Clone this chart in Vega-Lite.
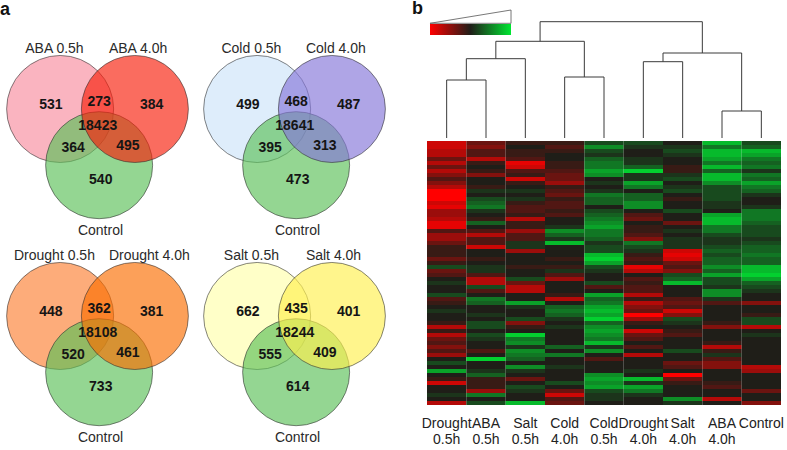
{
  "$schema": "https://vega.github.io/schema/vega-lite/v6.json",
  "background": "white",
  "padding": 0,
  "autosize": {"type": "pad"},
  "spacing": 20,
  "title": {"text": "a", "anchor": "start", "frame": "group", "offset": -19, "fontSize": 18, "fontWeight": "bold", "font": "Liberation Sans", "color": "#111"},
  "config": {
    "view": {"stroke": null},
    "font": "Liberation Sans",
    "text": {"font": "Liberation Sans"},
    "header": {"labels": false, "title": null, "labelPadding": 0, "titlePadding": 0, "labelFontSize": 0, "labelExpr": "''"},
    "headerFacet": {"labels": false, "title": null, "labelPadding": 0, "titlePadding": 0, "labelFontSize": 0, "labelExpr": "''"}
  },
  "resolve": {"scale": {"color": "independent", "fill": "independent"}, "legend": {"color": "independent", "fill": "independent"}},
  "hconcat": [
    {
      "data": {"values": [
        {"panel": "ABA", "kind": "circle", "set": "A", "name": "ABA 0.5h"},
        {"panel": "ABA", "kind": "circle", "set": "C", "name": "Control"},
        {"panel": "ABA", "kind": "circle", "set": "B", "name": "ABA 4.0h"},
        {"panel": "Cold", "kind": "circle", "set": "A", "name": "Cold 0.5h"},
        {"panel": "Cold", "kind": "circle", "set": "C", "name": "Control"},
        {"panel": "Cold", "kind": "circle", "set": "B", "name": "Cold 4.0h"},
        {"panel": "Drought", "kind": "circle", "set": "A", "name": "Drought 0.5h"},
        {"panel": "Drought", "kind": "circle", "set": "C", "name": "Control"},
        {"panel": "Drought", "kind": "circle", "set": "B", "name": "Drought 4.0h"},
        {"panel": "Salt", "kind": "circle", "set": "A", "name": "Salt 0.5h"},
        {"panel": "Salt", "kind": "circle", "set": "C", "name": "Control"},
        {"panel": "Salt", "kind": "circle", "set": "B", "name": "Salt 4.0h"},
        {"panel": "ABA", "kind": "count", "region": "A", "n": 531},
        {"panel": "ABA", "kind": "count", "region": "AB", "n": 273},
        {"panel": "ABA", "kind": "count", "region": "B", "n": 384},
        {"panel": "ABA", "kind": "count", "region": "ABC", "n": 18423},
        {"panel": "ABA", "kind": "count", "region": "AC", "n": 364},
        {"panel": "ABA", "kind": "count", "region": "BC", "n": 495},
        {"panel": "ABA", "kind": "count", "region": "C", "n": 540},
        {"panel": "Cold", "kind": "count", "region": "A", "n": 499},
        {"panel": "Cold", "kind": "count", "region": "AB", "n": 468},
        {"panel": "Cold", "kind": "count", "region": "B", "n": 487},
        {"panel": "Cold", "kind": "count", "region": "ABC", "n": 18641},
        {"panel": "Cold", "kind": "count", "region": "AC", "n": 395},
        {"panel": "Cold", "kind": "count", "region": "BC", "n": 313},
        {"panel": "Cold", "kind": "count", "region": "C", "n": 473},
        {"panel": "Drought", "kind": "count", "region": "A", "n": 448},
        {"panel": "Drought", "kind": "count", "region": "AB", "n": 362},
        {"panel": "Drought", "kind": "count", "region": "B", "n": 381},
        {"panel": "Drought", "kind": "count", "region": "ABC", "n": 18108},
        {"panel": "Drought", "kind": "count", "region": "AC", "n": 520},
        {"panel": "Drought", "kind": "count", "region": "BC", "n": 461},
        {"panel": "Drought", "kind": "count", "region": "C", "n": 733},
        {"panel": "Salt", "kind": "count", "region": "A", "n": 662},
        {"panel": "Salt", "kind": "count", "region": "AB", "n": 435},
        {"panel": "Salt", "kind": "count", "region": "B", "n": 401},
        {"panel": "Salt", "kind": "count", "region": "ABC", "n": 18244},
        {"panel": "Salt", "kind": "count", "region": "AC", "n": 555},
        {"panel": "Salt", "kind": "count", "region": "BC", "n": 409},
        {"panel": "Salt", "kind": "count", "region": "C", "n": 614}
      ]},
      "transform": [
        {"lookup": "set", "from": {"data": {"values": [
          {"set": "A", "cx": -0.69, "cy": 0.5, "lx": -0.795, "ly": 1.61},
          {"set": "B", "cx": 0.69, "cy": 0.5, "lx": 0.21, "ly": 1.61},
          {"set": "C", "cx": 0.03, "cy": -0.54, "lx": 0.055, "ly": -1.75}
        ]}, "key": "set", "fields": ["cx", "cy", "lx", "ly"]}},
        {"lookup": "region", "from": {"data": {"values": [
          {"region": "A", "nx": -0.86, "ny": 0.57},
          {"region": "AB", "nx": 0.03, "ny": 0.63},
          {"region": "B", "nx": 1.0, "ny": 0.57},
          {"region": "ABC", "nx": 0.005, "ny": 0.185},
          {"region": "AC", "nx": -0.45, "ny": -0.22},
          {"region": "BC", "nx": 0.56, "ny": -0.185},
          {"region": "C", "nx": 0.06, "ny": -0.81}
        ]}, "key": "region", "fields": ["nx", "ny"]}}
      ],
      "facet": {"field": "panel", "type": "nominal", "sort": ["ABA", "Cold", "Drought", "Salt"], "header": {"labels": false, "title": null, "labelPadding": 0, "titlePadding": 0, "labelFontSize": 0, "labelExpr": "''"}},
      "columns": 2,
      "bounds": "flush",
      "spacing": {"row": 0, "column": 2},
      "spec": {
        "width": 195,
        "height": 207,
        "layer": [
          {
            "transform": [{"filter": "datum.kind === 'circle'"}],
            "mark": {"type": "point", "shape": "circle", "filled": true, "size": 11449, "fillOpacity": 0.65, "stroke": "#333", "strokeWidth": 0.8, "strokeOpacity": 0.75},
            "encoding": {
              "x": {"field": "cx", "type": "quantitative", "scale": {"domain": [-1.8, 1.8], "nice": false, "zero": false}, "axis": null},
              "y": {"field": "cy", "type": "quantitative", "scale": {"domain": [-1.332, 2.498], "nice": false, "zero": false}, "axis": null},
              "fill": {"field": "name", "type": "nominal", "legend": null, "scale": {
                "domain": ["ABA 0.5h", "ABA 4.0h", "Cold 0.5h", "Cold 4.0h", "Drought 0.5h", "Drought 4.0h", "Salt 0.5h", "Salt 4.0h", "Control"],
                "range": ["#f78c9e", "#f71d09", "#cce3f9", "#8475d9", "#fc7f32", "#fa6d00", "#ffffaa", "#fff04e", "#5ac057"]}}
            }
          },
          {
            "transform": [{"filter": "datum.kind === 'circle' && datum.set !== 'B'"}],
            "mark": {"type": "text", "fontSize": 14, "color": "#2a2a2a", "align": "center", "baseline": "middle"},
            "encoding": {
              "x": {"field": "lx", "type": "quantitative"},
              "y": {"field": "ly", "type": "quantitative"},
              "text": {"field": "name"}
            }
          },
          {
            "transform": [{"filter": "datum.kind === 'circle' && datum.set === 'B'"}],
            "mark": {"type": "text", "fontSize": 14, "color": "#2a2a2a", "align": "left", "baseline": "middle"},
            "encoding": {
              "x": {"field": "lx", "type": "quantitative"},
              "y": {"field": "ly", "type": "quantitative"},
              "text": {"field": "name"}
            }
          },
          {
            "transform": [{"filter": "datum.kind === 'count'"}],
            "mark": {"type": "text", "fontSize": 14, "fontWeight": "bold", "color": "#151515", "align": "center", "baseline": "middle"},
            "encoding": {
              "x": {"field": "nx", "type": "quantitative"},
              "y": {"field": "ny", "type": "quantitative"},
              "text": {"field": "n", "type": "quantitative", "format": "d"}
            }
          }
        ]
      }
    },
    {
      "spacing": 3,
      "bounds": "flush",
      "resolve": {"scale": {"color": "independent"}, "legend": {"color": "independent"}},
      "vconcat": [
        {
          "width": 354,
          "height": 137,
          "title": {"text": "b", "anchor": "start", "frame": "group", "dx": -15, "offset": -17, "fontSize": 18, "fontWeight": "bold", "font": "Liberation Sans", "color": "#111"},
          "layer": [
            {
              "data": {"values": [
                {"x": 0, "x2": 0, "h": 0, "h2": 58},
                {"x": 1, "x2": 1, "h": 0, "h2": 58},
                {"x": 0, "x2": 1, "h": 58, "h2": 58},
                {"x": 2, "x2": 2, "h": 0, "h2": 79.3},
                {"x": 0.5, "x2": 0.5, "h": 58, "h2": 79.3},
                {"x": 0.5, "x2": 2, "h": 79.3, "h2": 79.3},
                {"x": 3, "x2": 3, "h": 0, "h2": 61},
                {"x": 4, "x2": 4, "h": 0, "h2": 61},
                {"x": 3, "x2": 4, "h": 61, "h2": 61},
                {"x": 1.25, "x2": 1.25, "h": 79.3, "h2": 96.7},
                {"x": 3.5, "x2": 3.5, "h": 61, "h2": 96.7},
                {"x": 1.25, "x2": 3.5, "h": 96.7, "h2": 96.7},
                {"x": 5, "x2": 5, "h": 0, "h2": 76.3},
                {"x": 6, "x2": 6, "h": 0, "h2": 76.3},
                {"x": 5, "x2": 6, "h": 76.3, "h2": 76.3},
                {"x": 7, "x2": 7, "h": 0, "h2": 27},
                {"x": 8, "x2": 8, "h": 0, "h2": 27},
                {"x": 7, "x2": 8, "h": 27, "h2": 27},
                {"x": 5.5, "x2": 5.5, "h": 76.3, "h2": 85},
                {"x": 7.5, "x2": 7.5, "h": 27, "h2": 85},
                {"x": 5.5, "x2": 7.5, "h": 85, "h2": 85},
                {"x": 2.375, "x2": 2.375, "h": 96.7, "h2": 116.3},
                {"x": 6.5, "x2": 6.5, "h": 85, "h2": 116.3},
                {"x": 2.375, "x2": 6.5, "h": 116.3, "h2": 116.3}
              ]},
              "mark": {"type": "rule", "color": "#3a3a3a", "strokeWidth": 1},
              "encoding": {
                "x": {"field": "x", "type": "quantitative", "scale": {"domain": [-0.5, 8.5], "nice": false, "zero": false}, "axis": null},
                "x2": {"field": "x2"},
                "y": {"field": "h", "type": "quantitative", "scale": {"domain": [0, 137], "nice": false, "zero": false}, "axis": null},
                "y2": {"field": "h2"}
              }
            },
            {
              "data": {"values": [
                {"wx": -0.424, "wh": 114.7, "o": 0},
                {"wx": 1.636, "wh": 128, "o": 1},
                {"wx": 1.636, "wh": 114.7, "o": 2},
                {"wx": -0.424, "wh": 114.7, "o": 3}
              ]},
              "mark": {"type": "line", "color": "#555", "strokeWidth": 0.8},
              "encoding": {
                "x": {"field": "wx", "type": "quantitative"},
                "y": {"field": "wh", "type": "quantitative"},
                "order": {"field": "o", "type": "quantitative"}
              }
            }
          ]
        },
        {
          "width": 354,
          "height": 264,
          "data": {"values": [
            {"r":0,"D05":-7,"A05":-3,"S05":-1,"C4":-1,"C05":2,"D4":2,"S4":0,"A4":7,"Ct":2},
            {"r":1,"D05":-7,"A05":-4,"S05":0,"C4":-2,"C05":5,"D4":1,"S4":1,"A4":4,"Ct":3},
            {"r":2,"D05":-6,"A05":-2,"S05":-1,"C4":-1,"C05":2,"D4":0,"S4":2,"A4":7,"Ct":7},
            {"r":3,"D05":-6,"A05":-2,"S05":-1,"C4":0,"C05":1,"D4":0,"S4":1,"A4":7,"Ct":6},
            {"r":4,"D05":-3,"A05":-6,"S05":-2,"C4":0,"C05":3,"D4":1,"S4":0,"A4":6,"Ct":4},
            {"r":5,"D05":-6,"A05":-1,"S05":-8,"C4":-1,"C05":4,"D4":1,"S4":0,"A4":4,"Ct":3},
            {"r":6,"D05":-3,"A05":0,"S05":-7,"C4":-1,"C05":4,"D4":3,"S4":-1,"A4":7,"Ct":4},
            {"r":7,"D05":-6,"A05":-1,"S05":-2,"C4":-2,"C05":6,"D4":8,"S4":-1,"A4":3,"Ct":1},
            {"r":8,"D05":-4,"A05":-4,"S05":-1,"C4":-3,"C05":5,"D4":1,"S4":1,"A4":7,"Ct":4},
            {"r":9,"D05":-2,"A05":0,"S05":-7,"C4":-3,"C05":0,"D4":1,"S4":2,"A4":7,"Ct":3},
            {"r":10,"D05":-4,"A05":0,"S05":-1,"C4":-5,"C05":1,"D4":6,"S4":0,"A4":5,"Ct":6},
            {"r":11,"D05":-6,"A05":-1,"S05":0,"C4":-1,"C05":0,"D4":4,"S4":1,"A4":2,"Ct":4},
            {"r":12,"D05":-9,"A05":1,"S05":1,"C4":-2,"C05":1,"D4":0,"S4":2,"A4":2,"Ct":3},
            {"r":13,"D05":-9,"A05":0,"S05":0,"C4":-3,"C05":4,"D4":3,"S4":0,"A4":2,"Ct":1},
            {"r":14,"D05":-9,"A05":2,"S05":1,"C4":-1,"C05":3,"D4":3,"S4":-1,"A4":2,"Ct":0},
            {"r":15,"D05":-7,"A05":3,"S05":-1,"C4":-2,"C05":3,"D4":5,"S4":0,"A4":1,"Ct":0},
            {"r":16,"D05":-8,"A05":4,"S05":-2,"C4":-2,"C05":0,"D4":5,"S4":0,"A4":1,"Ct":1},
            {"r":17,"D05":-5,"A05":1,"S05":-2,"C4":-1,"C05":2,"D4":0,"S4":2,"A4":0,"Ct":4},
            {"r":18,"D05":-5,"A05":0,"S05":-1,"C4":-2,"C05":3,"D4":-2,"S4":0,"A4":6,"Ct":4},
            {"r":19,"D05":-6,"A05":-1,"S05":-6,"C4":0,"C05":4,"D4":-3,"S4":0,"A4":7,"Ct":4},
            {"r":20,"D05":-8,"A05":3,"S05":-1,"C4":0,"C05":5,"D4":0,"S4":-3,"A4":7,"Ct":3},
            {"r":21,"D05":-8,"A05":0,"S05":-1,"C4":1,"C05":6,"D4":-1,"S4":0,"A4":4,"Ct":2},
            {"r":22,"D05":-2,"A05":-2,"S05":-5,"C4":5,"C05":4,"D4":-1,"S4":1,"A4":4,"Ct":2},
            {"r":23,"D05":-5,"A05":-6,"S05":-2,"C4":3,"C05":4,"D4":-2,"S4":0,"A4":2,"Ct":2},
            {"r":24,"D05":-5,"A05":-2,"S05":-2,"C4":1,"C05":3,"D4":-4,"S4":1,"A4":1,"Ct":1},
            {"r":25,"D05":-3,"A05":-2,"S05":1,"C4":7,"C05":1,"D4":4,"S4":1,"A4":1,"Ct":2},
            {"r":26,"D05":-1,"A05":-7,"S05":1,"C4":0,"C05":2,"D4":2,"S4":1,"A4":2,"Ct":3},
            {"r":27,"D05":-1,"A05":0,"S05":-5,"C4":0,"C05":2,"D4":1,"S4":-7,"A4":3,"Ct":3},
            {"r":28,"D05":-1,"A05":0,"S05":0,"C4":0,"C05":7,"D4":-1,"S4":-8,"A4":2,"Ct":4},
            {"r":29,"D05":-3,"A05":-1,"S05":0,"C4":-1,"C05":8,"D4":-2,"S4":-7,"A4":3,"Ct":3},
            {"r":30,"D05":-1,"A05":0,"S05":0,"C4":0,"C05":6,"D4":-1,"S4":-3,"A4":3,"Ct":3},
            {"r":31,"D05":2,"A05":1,"S05":-1,"C4":-1,"C05":2,"D4":-8,"S4":-2,"A4":5,"Ct":7},
            {"r":32,"D05":-3,"A05":1,"S05":0,"C4":1,"C05":1,"D4":-6,"S4":-4,"A4":3,"Ct":7},
            {"r":33,"D05":-2,"A05":-2,"S05":0,"C4":-2,"C05":0,"D4":0,"S4":2,"A4":6,"Ct":8},
            {"r":34,"D05":0,"A05":-6,"S05":2,"C4":-5,"C05":0,"D4":-2,"S4":3,"A4":2,"Ct":6},
            {"r":35,"D05":1,"A05":-6,"S05":-3,"C4":0,"C05":2,"D4":-1,"S4":7,"A4":2,"Ct":3},
            {"r":36,"D05":0,"A05":2,"S05":-6,"C4":0,"C05":-2,"D4":-2,"S4":0,"A4":1,"Ct":2},
            {"r":37,"D05":0,"A05":-2,"S05":-6,"C4":0,"C05":0,"D4":-2,"S4":0,"A4":5,"Ct":1},
            {"r":38,"D05":2,"A05":0,"S05":0,"C4":-1,"C05":6,"D4":-6,"S4":0,"A4":5,"Ct":0},
            {"r":39,"D05":-2,"A05":4,"S05":0,"C4":-6,"C05":3,"D4":-1,"S4":-2,"A4":1,"Ct":0},
            {"r":40,"D05":-1,"A05":3,"S05":6,"C4":0,"C05":4,"D4":-6,"S4":-3,"A4":-2,"Ct":-4},
            {"r":41,"D05":0,"A05":0,"S05":1,"C4":3,"C05":6,"D4":-4,"S4":-2,"A4":0,"Ct":0},
            {"r":42,"D05":1,"A05":0,"S05":0,"C4":4,"C05":7,"D4":-3,"S4":-7,"A4":0,"Ct":0},
            {"r":43,"D05":0,"A05":1,"S05":0,"C4":3,"C05":6,"D4":-9,"S4":-4,"A4":0,"Ct":-1},
            {"r":44,"D05":0,"A05":0,"S05":2,"C4":1,"C05":8,"D4":-5,"S4":2,"A4":0,"Ct":2},
            {"r":45,"D05":-1,"A05":2,"S05":-4,"C4":0,"C05":3,"D4":-1,"S4":1,"A4":-1,"Ct":2},
            {"r":46,"D05":-6,"A05":2,"S05":-1,"C4":1,"C05":5,"D4":0,"S4":0,"A4":-4,"Ct":-6},
            {"r":47,"D05":-1,"A05":0,"S05":0,"C4":0,"C05":6,"D4":-7,"S4":-1,"A4":0,"Ct":0},
            {"r":48,"D05":-6,"A05":2,"S05":8,"C4":0,"C05":5,"D4":-3,"S4":-2,"A4":0,"Ct":1},
            {"r":49,"D05":-3,"A05":1,"S05":4,"C4":0,"C05":4,"D4":-2,"S4":0,"A4":0,"Ct":0},
            {"r":50,"D05":-2,"A05":0,"S05":5,"C4":0,"C05":7,"D4":0,"S4":0,"A4":-1,"Ct":0},
            {"r":51,"D05":-4,"A05":0,"S05":1,"C4":3,"C05":1,"D4":-2,"S4":0,"A4":-6,"Ct":0},
            {"r":52,"D05":-2,"A05":-2,"S05":5,"C4":0,"C05":5,"D4":0,"S4":2,"A4":-1,"Ct":0},
            {"r":53,"D05":-5,"A05":0,"S05":4,"C4":4,"C05":0,"D4":-6,"S4":0,"A4":1,"Ct":0},
            {"r":54,"D05":0,"A05":8,"S05":3,"C4":0,"C05":-2,"D4":0,"S4":0,"A4":-2,"Ct":0},
            {"r":55,"D05":2,"A05":0,"S05":0,"C4":0,"C05":0,"D4":0,"S4":-3,"A4":-4,"Ct":0},
            {"r":56,"D05":0,"A05":0,"S05":5,"C4":1,"C05":0,"D4":0,"S4":-2,"A4":-4,"Ct":-6},
            {"r":57,"D05":6,"A05":1,"S05":1,"C4":0,"C05":0,"D4":1,"S4":0,"A4":0,"Ct":-5},
            {"r":58,"D05":0,"A05":3,"S05":0,"C4":0,"C05":5,"D4":0,"S4":-9,"A4":0,"Ct":0},
            {"r":59,"D05":-1,"A05":-1,"S05":-3,"C4":0,"C05":6,"D4":7,"S4":-3,"A4":0,"Ct":0},
            {"r":60,"D05":-7,"A05":-1,"S05":0,"C4":2,"C05":5,"D4":1,"S4":-1,"A4":-1,"Ct":0},
            {"r":61,"D05":0,"A05":-1,"S05":2,"C4":0,"C05":6,"D4":6,"S4":0,"A4":-2,"Ct":0},
            {"r":62,"D05":0,"A05":-5,"S05":1,"C4":-3,"C05":2,"D4":4,"S4":0,"A4":0,"Ct":-3},
            {"r":63,"D05":1,"A05":4,"S05":0,"C4":-7,"C05":1,"D4":1,"S4":0,"A4":0,"Ct":0},
            {"r":64,"D05":0,"A05":0,"S05":0,"C4":-2,"C05":1,"D4":0,"S4":5,"A4":-6,"Ct":0},
            {"r":65,"D05":-6,"A05":2,"S05":7,"C4":-3,"C05":0,"D4":0,"S4":1,"A4":0,"Ct":-4}
          ]},
          "transform": [
            {"fold": ["D05", "A05", "S05", "C4", "C05", "D4", "S4", "A4", "Ct"], "as": ["k", "v"]},
            {"lookup": "k", "from": {"data": {"values": [
              {"k": "D05", "cond": "Drought 0.5h"},
              {"k": "A05", "cond": "ABA 0.5h"},
              {"k": "S05", "cond": "Salt 0.5h"},
              {"k": "C4", "cond": "Cold 4.0h"},
              {"k": "C05", "cond": "Cold 0.5h"},
              {"k": "D4", "cond": "Drought 4.0h"},
              {"k": "S4", "cond": "Salt 4.0h"},
              {"k": "A4", "cond": "ABA 4.0h"},
              {"k": "Ct", "cond": "Control"}
            ]}, "key": "k", "fields": ["cond"]}}
          ],
          "mark": {"type": "rect", "strokeWidth": 0},
          "encoding": {
            "x": {"field": "cond", "type": "nominal",
              "sort": ["Drought 0.5h", "ABA 0.5h", "Salt 0.5h", "Cold 4.0h", "Cold 0.5h", "Drought 4.0h", "Salt 4.0h", "ABA 4.0h", "Control"],
              "scale": {"paddingInner": 0, "paddingOuter": 0},
              "axis": {"orient": "bottom", "title": null, "domain": false, "ticks": false, "labelAngle": 0, "labelPadding": 11, "labelFontSize": 14, "labelFont": "Liberation Sans", "labelColor": "#222", "labelBaseline": "top", "labelLineHeight": 16, "labelExpr": "split(datum.label, ' ')"}},
            "y": {"field": "r", "type": "ordinal", "scale": {"paddingInner": 0, "paddingOuter": 0}, "axis": null},
            "color": {"field": "v", "type": "quantitative",
              "scale": {"domain": [-9, 0, 9], "range": ["#ff0000", "#1f1e18", "#00e632"], "interpolate": "rgb"},
              "legend": {"orient": "none", "legendX": 3, "legendY": -117, "direction": "horizontal", "gradientLength": 81, "gradientThickness": 11, "labelExpr": "''", "labelOpacity": 0, "labelFontSize": 1, "title": null, "padding": 0, "gradientStrokeWidth": 0}}
          }
        }
      ]
    }
  ]
}
